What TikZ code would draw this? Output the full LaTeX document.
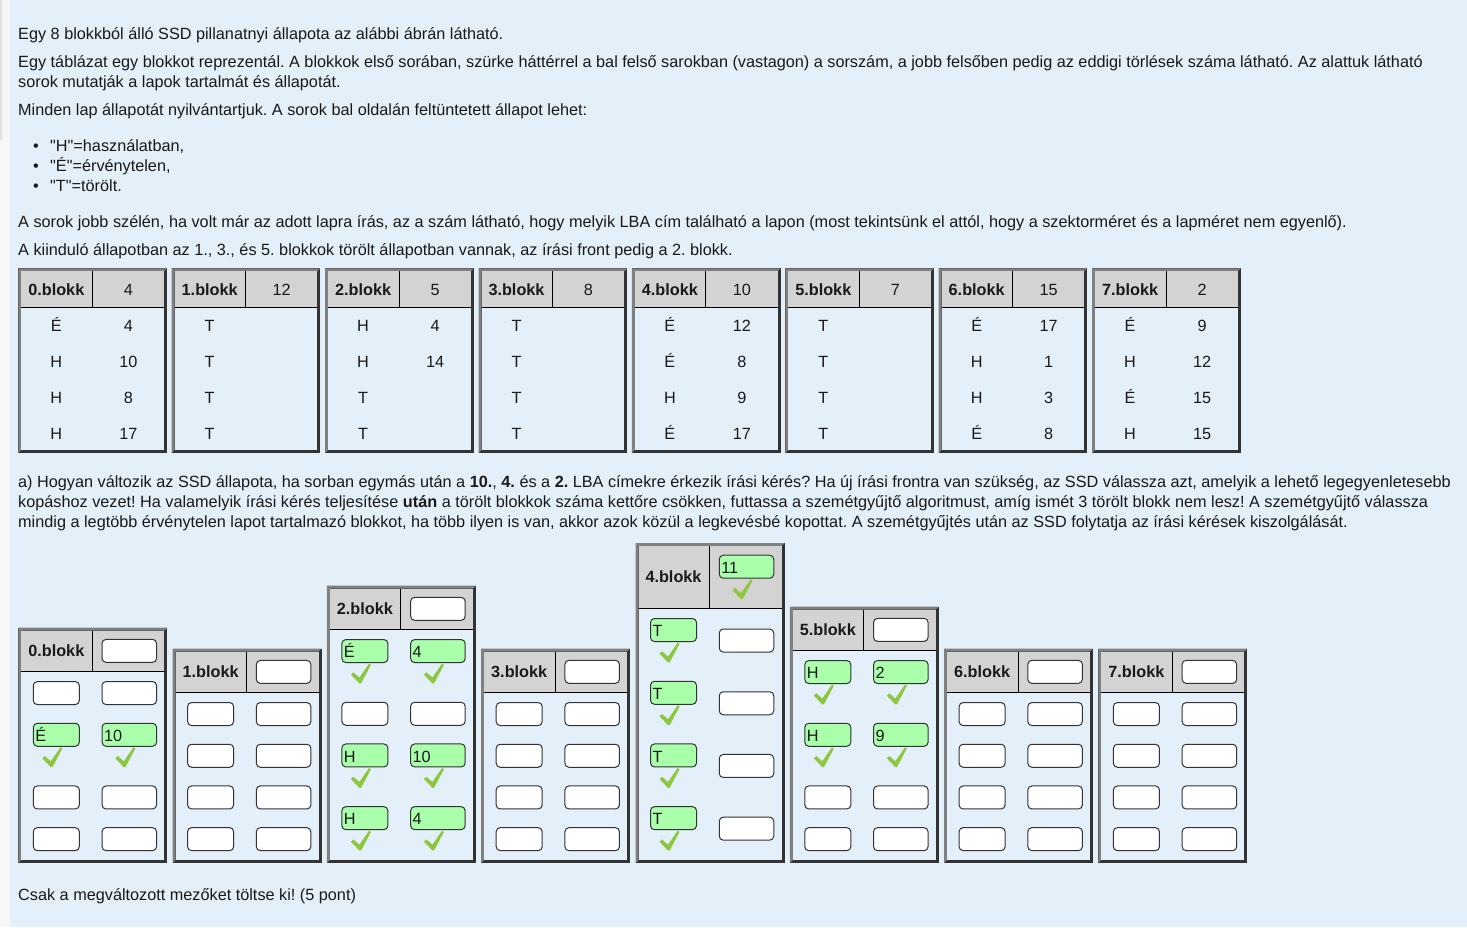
\documentclass[tikz,border=0pt]{standalone}
\usepackage{fontspec}
\setmainfont{Liberation Sans}
\setmonofont{Liberation Sans}
\frenchspacing
\definecolor{pagebg}{RGB}{227,239,249}
\definecolor{stripbg}{RGB}{246,247,248}
\definecolor{stripln}{RGB}{222,224,226}
\definecolor{hdrbg}{RGB}{211,211,211}
\definecolor{bordlt}{RGB}{128,128,128}
\definecolor{borddk}{RGB}{51,51,51}
\definecolor{okfill}{RGB}{170,255,170}
\definecolor{okcheck}{RGB}{141,198,63}
\definecolor{txt}{RGB}{25,25,25}
\newcommand{\fs}{\fontsize{16.25}{20}\selectfont}
\newcommand{\qm}{{\ttfamily\char34\relax}}
\tikzset{
  bodytxt/.style={font=\fs, text=txt, inner sep=0pt, anchor=base west},
  celltxt/.style={font=\fs, text=txt, inner sep=0pt, anchor=base},
  hdrtxt/.style={font=\bfseries\fs, text=txt, inner sep=0pt, anchor=base},
  inbox/.style={draw=borddk, fill=white, rounded corners=4pt, line width=1pt, minimum height=23pt, inner sep=0pt},
  okbox/.style={inbox, fill=okfill, align=left, inner xsep=2pt, text height=13.4pt, text depth=0pt,
    font=\fs, text=txt},
}
\def\dashmark{-}
\newcommand{\bevelbox}[4]{%
  \fill[borddk] (#1,#2) rectangle (#3,#4);
  \fill[bordlt] (#1,#4) -- (#1,#2) -- (#3,#2) -- ({#3-3},{#2+3}) -- ({#1+3},{#2+3}) -- ({#1+3},{#4-3}) -- cycle;
  \fill[pagebg] ({#1+3},{#2+3}) rectangle ({#3-3},{#4-3});
}
\newcommand{\okmark}[2]{%
  \fill[okcheck, shift={({#1-10},{#2-10})}] (0,11) -- (2.5,8.8) -- (8.5,14) -- (18.2,0) -- (20,1.3) -- (10.2,19.8) -- (8.4,19.8) -- cycle;
}
\newcommand{\cellin}[5]{% name, xc, yc, width, value
  \edef\tmpv{#5}%
  \ifx\tmpv\dashmark
    \node[inbox, minimum width=#4] (#1) at ({#2},{#3}) {};
  \else
    \pgfmathsetmacro{\tw}{#4-4}%
    \node[okbox, minimum width=#4, text width=\tw pt] (#1) at ({#2},{#3-10.5}) {#5};
    \okmark{#2-4}{#3+12}
  \fi
}
\newcommand{\topblk}[3]{%
  \pgfmathsetmacro{\bxL}{18.3+153.4*#1}%
  \pgfmathsetmacro{\bxR}{\bxL+148.7}%
  \bevelbox{\bxL}{268.3}{\bxR}{453}
  \fill[hdrbg] ({\bxL+3},271.3) rectangle ({\bxR-3},307.3);
  \draw[black, line width=1pt] ({\bxL+3},307.3) -- ({\bxR-3},307.3);
  \draw[black, line width=1pt] ({\bxL+74},271.3) -- ({\bxL+74},307.3);
  \node[hdrtxt] (t#1h) at ({\bxL+38},295) {#1.blokk};
  \node[celltxt] (t#1e) at ({\bxL+110},295) {#2};
  \foreach \a/\b [count=\r] in {#3} {
    \node[celltxt] (t#1r\r-a) at ({\bxL+38},{295+36.2*\r}) {\a};
    \edef\tmpv{\b}%
    \ifx\tmpv\dashmark\else
      \node[celltxt] (t#1r\r-b) at ({\bxL+110},{295+36.2*\r}) {\b};
    \fi
  }
}
\newcommand{\botblk}[4]{% index, outer top, header value, rows h/a/b
  \pgfmathsetmacro{\bxL}{18.3+154.3*#1}%
  \pgfmathsetmacro{\bxR}{\bxL+149}%
  \bevelbox{\bxL}{#2}{\bxR}{863}
  \edef\tmpv{#3}%
  \ifx\tmpv\dashmark\def\hh{40.7}\else\def\hh{62}\fi
  \pgfmathsetmacro{\hb}{#2+3+\hh}%
  \pgfmathsetmacro{\hc}{#2+3+\hh/2}%
  \fill[hdrbg] ({\bxL+3},{#2+3}) rectangle ({\bxR-3},{\hb});
  \draw[black, line width=1pt] ({\bxL+3},{\hb+0.5}) -- ({\bxR-3},{\hb+0.5});
  \draw[black, line width=1pt] ({\bxL+74},{#2+3}) -- ({\bxL+74},{\hb});
  \node[hdrtxt] (b#1h) at ({\bxL+38},{\hc+5.75}) {#1.blokk};
  \cellin{b#1e}{\bxL+111}{\hc}{54.5}{#3}
  \pgfmathsetmacro{\ny}{\hb+1}\xdef\cury{\ny}%
  \foreach \h/\a/\b [count=\r] in {#4} {
    \pgfmathsetmacro{\yc}{\cury+\h/2}%
    \cellin{b#1r\r-a}{\bxL+38}{\yc}{46}{\a}
    \cellin{b#1r\r-b}{\bxL+111}{\yc}{54.5}{\b}
    \pgfmathsetmacro{\ny}{\cury+\h}\xdef\cury{\ny}%
  }
}
\begin{document}
\begin{tikzpicture}[x=1pt,y=-1pt]
\useasboundingbox (0,0) rectangle (1467,927);
\fill[pagebg] (0,0) rectangle (1467,927);
\fill[stripbg] (0,0) rectangle (10,927);
\draw[stripln, line width=1.5pt] (1,0) -- (1,140);

\node[bodytxt] (l1) at (18,39.3) {Egy 8 blokkból álló SSD pillanatnyi állapota az alábbi ábrán látható.};
\node[bodytxt] (l2) at (18,67) {Egy táblázat egy blokkot reprezentál. A blokkok első sorában, szürke háttérrel a bal felső sarokban (vastagon) a sorszám, a jobb felsőben pedig az eddigi törlések száma látható. Az alattuk látható};
\node[bodytxt] (l3) at (18,87) {sorok mutatják a lapok tartalmát és állapotát.};
\node[bodytxt] (l4) at (18,115) {Minden lap állapotát nyilvántartjuk. A sorok bal oldalán feltüntetett állapot lehet:};
\node[bodytxt] (d1) at (33,151.7) {•};
\node[bodytxt] (i1) at (50,151.7) {\qm H\qm=használatban,};
\node[bodytxt] (d2) at (33,171.7) {•};
\node[bodytxt] (i2) at (50,171.7) {\qm É\qm=érvénytelen,};
\node[bodytxt] (d3) at (33,191.7) {•};
\node[bodytxt] (i3) at (50,191.7) {\qm T\qm=törölt.};
\node[bodytxt] (l5) at (18,227.7) {A sorok jobb szélén, ha volt már az adott lapra írás, az a szám látható, hogy melyik LBA cím található a lapon (most tekintsünk el attól, hogy a szektorméret és a lapméret nem egyenlő).};
\node[bodytxt] (l6) at (18,255) {A kiinduló állapotban az 1., 3., és 5. blokkok törölt állapotban vannak, az írási front pedig a 2. blokk.};

\topblk{0}{4}{É/4,H/10,H/8,H/17}
\topblk{1}{12}{T/-,T/-,T/-,T/-}
\topblk{2}{5}{H/4,H/14,T/-,T/-}
\topblk{3}{8}{T/-,T/-,T/-,T/-}
\topblk{4}{10}{É/12,É/8,H/9,É/17}
\topblk{5}{7}{T/-,T/-,T/-,T/-}
\topblk{6}{15}{É/17,H/1,H/3,É/8}
\topblk{7}{2}{É/9,H/12,É/15,H/15}

\node[bodytxt] (a1) at (18,487.3) {a) Hogyan változik az SSD állapota, ha sorban egymás után a \textbf{10.}, \textbf{4.} és a \textbf{2.} LBA címekre érkezik írási kérés? Ha új írási frontra van szükség, az SSD válassza azt, amelyik a lehető legegyenletesebb};
\node[bodytxt] (a2) at (18,507.3) {kopáshoz vezet! Ha valamelyik írási kérés teljesítése \textbf{után} a törölt blokkok száma kettőre csökken, futtassa a szemétgyűjtő algoritmust, amíg ismét 3 törölt blokk nem lesz! A szemétgyűjtő válassza};
\node[bodytxt] (a3) at (18,527.3) {mindig a legtöbb érvénytelen lapot tartalmazó blokkot, ha több ilyen is van, akkor azok közül a legkevésbé kopottat. A szemétgyűjtés után az SSD folytatja az írási kérések kiszolgálását.};

\botblk{0}{627.5}{-}{41.7/-/-,62.7/É/10,41.7/-/-,41.7/-/-}
\botblk{1}{648.5}{-}{41.7/-/-,41.7/-/-,41.7/-/-,41.7/-/-}
\botblk{2}{585.5}{-}{62.7/É/4,41.7/-/-,62.7/H/10,62.7/H/4}
\botblk{3}{648.5}{-}{41.7/-/-,41.7/-/-,41.7/-/-,41.7/-/-}
\botblk{4}{543.2}{11}{62.7/T/-,62.7/T/-,62.7/T/-,62.7/T/-}
\botblk{5}{606.5}{-}{62.7/H/2,62.7/H/9,41.7/-/-,41.7/-/-}
\botblk{6}{648.5}{-}{41.7/-/-,41.7/-/-,41.7/-/-,41.7/-/-}
\botblk{7}{648.5}{-}{41.7/-/-,41.7/-/-,41.7/-/-,41.7/-/-}

\node[bodytxt] (last) at (18,900) {Csak a megváltozott mezőket töltse ki! (5 pont)};
\end{tikzpicture}
\end{document}
